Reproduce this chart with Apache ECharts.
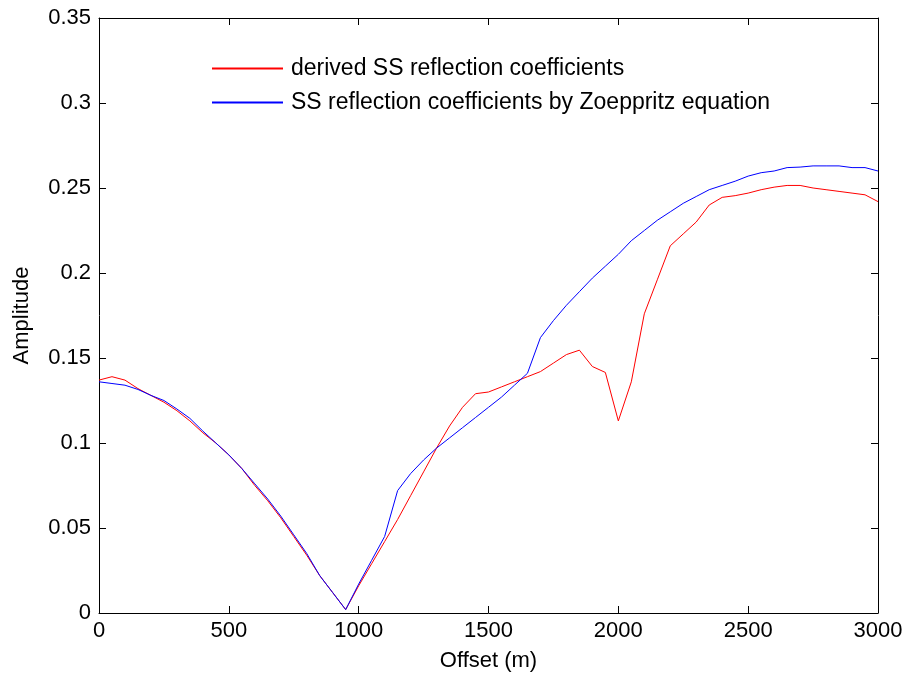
<!DOCTYPE html>
<html>
<head>
<meta charset="utf-8">
<script src="https://cdn.jsdelivr.net/npm/echarts@6/dist/echarts.min.js"></script>
<style>
  html, body { margin: 0; padding: 0; background: #fff; }
  #chart { width: 909px; height: 679px; }
</style>
</head>
<body>
<div id="chart"></div>
<script>
// Offsets (m), sampled every 50 m
const offsets = [
  0, 50, 100, 150, 200, 250, 300, 350, 400, 450,
  500, 550, 600, 650, 700, 750, 800, 850, 900, 950,
  1000, 1050, 1100, 1150, 1200, 1250, 1300, 1350, 1400, 1450,
  1500, 1550, 1600, 1650, 1700, 1750, 1800, 1850, 1900, 1950,
  2000, 2050, 2100, 2150, 2200, 2250, 2300, 2350, 2400, 2450,
  2500, 2550, 2600, 2650, 2700, 2750, 2800, 2850, 2900, 2950, 3000
];

// Derived SS reflection coefficients
const derivedSS = [
  0.137, 0.139, 0.137, 0.132, 0.128, 0.124, 0.119, 0.113, 0.106, 0.100,
  0.093, 0.085, 0.075, 0.066, 0.056, 0.045, 0.034, 0.022, 0.012, 0.002,
  0.016, 0.029, 0.042, 0.055, 0.069, 0.083, 0.097, 0.110, 0.121, 0.129,
  0.130, 0.133, 0.136, 0.139, 0.142, 0.147, 0.152, 0.1546, 0.145, 0.1415,
  0.113, 0.136, 0.176, 0.196, 0.216, 0.223, 0.230, 0.240, 0.2445, 0.2455,
  0.247, 0.249, 0.2505, 0.2515, 0.2515, 0.250, 0.249, 0.248, 0.247, 0.246, 0.242
];

// SS reflection coefficients from the Zoeppritz equation
const zoeppritzSS = [
  0.136, 0.135, 0.134, 0.1315, 0.128, 0.125, 0.120, 0.1145, 0.107, 0.100,
  0.093, 0.085, 0.076, 0.067, 0.057, 0.046, 0.035, 0.022, 0.012, 0.002,
  0.017, 0.031, 0.045, 0.072, 0.082, 0.090, 0.097, 0.103, 0.109, 0.115,
  0.121, 0.127, 0.134, 0.141, 0.162, 0.172, 0.181, 0.189, 0.197, 0.204,
  0.211, 0.219, 0.225, 0.231, 0.236, 0.241, 0.245, 0.249, 0.2515, 0.254,
  0.257, 0.259, 0.260, 0.262, 0.2623, 0.263, 0.263, 0.263, 0.262, 0.262, 0.260
];

const seriesNames = [
  'derived SS reflection coefficients',
  'SS reflection coefficients by Zoeppritz equation'
];

const font = 'Liberation Sans, Arial, sans-serif';
const fontSize = 22;
const chart = echarts.init(document.getElementById('chart'));

const pairs = (ys) => offsets.map((x, i) => [x, ys[i]]);
const frameLine = { show: true, onZero: false, lineStyle: { color: '#000', width: 1 } };
const innerTick = { show: true, inside: true, length: 7, lineStyle: { color: '#000', width: 1 } };

chart.setOption({
  animation: false,
  backgroundColor: '#fff',
  textStyle: { fontFamily: font },
  grid: { left: 99, right: 31, top: 18, bottom: 66, containLabel: false },
  legend: {
    orient: 'vertical',
    left: 207,
    top: 52,
    itemWidth: 71,
    itemHeight: 2,
    itemGap: 11,
    icon: 'rect',
    textStyle: {
      fontFamily: font, fontSize: 23, lineHeight: 23,
      color: '#000', padding: [0, 0, 0, 3]
    },
    data: seriesNames
  },
  xAxis: [
    {
      type: 'value', min: 0, max: 3000, interval: 500,
      name: 'Offset (m)', nameLocation: 'middle', nameGap: 37,
      nameTextStyle: { fontFamily: font, fontSize: fontSize, color: '#000' },
      axisLine: frameLine, axisTick: innerTick,
      axisLabel: {
        color: '#000', fontSize: fontSize, fontFamily: font, margin: 7,
        formatter: (v) => String(v)
      },
      splitLine: { show: false }
    },
    {
      type: 'value', position: 'top', min: 0, max: 3000, interval: 500,
      axisLine: frameLine, axisTick: innerTick,
      axisLabel: { show: false }, splitLine: { show: false }
    }
  ],
  yAxis: [
    {
      type: 'value', min: 0, max: 0.35, interval: 0.05,
      name: 'Amplitude', nameLocation: 'middle', nameGap: 66,
      nameTextStyle: { fontFamily: font, fontSize: fontSize, color: '#000' },
      axisLine: frameLine, axisTick: innerTick,
      axisLabel: {
        color: '#000', fontSize: fontSize, fontFamily: font, margin: 8,
        formatter: (v) => String(+v.toFixed(2))
      },
      splitLine: { show: false }
    },
    {
      type: 'value', position: 'right', min: 0, max: 0.35, interval: 0.05,
      axisLine: frameLine, axisTick: innerTick,
      axisLabel: { show: false }, splitLine: { show: false }
    }
  ],
  series: [
    {
      name: seriesNames[0], type: 'line', data: pairs(derivedSS),
      showSymbol: false, symbol: 'none', color: '#ff0000',
      lineStyle: { color: '#ff0000', width: 1 }, z: 2
    },
    {
      name: seriesNames[1], type: 'line', data: pairs(zoeppritzSS),
      showSymbol: false, symbol: 'none', color: '#0000ff',
      lineStyle: { color: '#0000ff', width: 1 }, z: 3
    }
  ]
});
</script>
</body>
</html>
